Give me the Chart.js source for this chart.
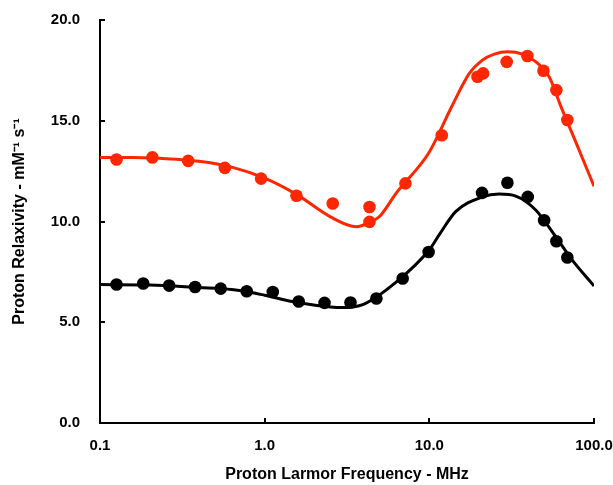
<!DOCTYPE html>
<html>
<head>
<meta charset="utf-8">
<script src="https://cdn.jsdelivr.net/npm/chart.js@4/dist/chart.umd.min.js"></script>
<style>
  html, body { margin: 0; padding: 0; background: #fff; }
  #wrap { width: 613px; height: 485px; }
</style>
</head>
<body>
<div id="wrap"><canvas id="relaxChart"></canvas></div>
<script>
// measured points (MHz, mM-1 s-1)
const redX = [0.126, 0.208, 0.343, 0.573, 0.951, 1.56, 2.59, 4.33, 4.33, 7.16, 11.9, 19.6, 21.2, 29.5, 39.4, 49.3, 59.1, 68.9];
const redY = [13.08, 13.18, 13.01, 12.66, 12.13, 11.28, 10.89, 10.72, 9.98, 11.89, 14.28, 17.18, 17.35, 17.92, 18.21, 17.48, 16.52, 15.04];

const blackX = [0.126, 0.183, 0.263, 0.378, 0.541, 0.778, 1.12, 1.61, 2.31, 3.32, 4.77, 6.89, 9.9, 20.9, 29.8, 39.6, 49.8, 59.1, 68.9];
const blackY = [6.87, 6.92, 6.82, 6.75, 6.67, 6.54, 6.50, 6.03, 5.96, 5.98, 6.18, 7.17, 8.49, 11.42, 11.92, 11.22, 10.06, 9.02, 8.21];

// fitted curves
const redFitX = [0.1, 0.158, 0.251, 0.398, 0.631, 1.0, 1.585, 2.51, 3.6, 4.33, 5.0, 6.31, 10, 13.8, 17.5, 21.0, 24.8, 29.9, 36.7, 44.4, 53.4, 63.1, 78.9, 100];
const redFitY = [13.18, 13.17, 13.12, 12.99, 12.70, 12.15, 11.31, 10.23, 9.74, 9.95, 10.26, 11.42, 13.45, 15.77, 17.35, 18.01, 18.31, 18.42, 18.31, 17.92, 17.18, 15.69, 13.79, 11.75];

const blackFitX = [0.1, 0.2, 0.398, 0.631, 0.8, 1.0, 1.585, 2.51, 2.97, 3.98, 6.31, 10, 11.5, 14.5, 21.0, 26.5, 33.5, 44.4, 58.6, 73.8, 100];
const blackFitY = [6.87, 6.85, 6.72, 6.62, 6.50, 6.34, 5.98, 5.76, 5.73, 5.89, 7.0, 8.6, 9.35, 10.5, 11.22, 11.36, 11.26, 10.56, 9.24, 8.08, 6.8];

const xTicks = [0.1, 1, 10, 100];
const yTicks = [0, 5, 10, 15, 20];

const RED = "#ff2600";
const FONT = "Helvetica, Arial, 'Liberation Sans', sans-serif";

const pts = (xs, ys) => xs.map((x, i) => ({ x: x, y: ys[i] }));

// tick marks point into the plot, so draw them here
const innerTicks = {
    id: "innerTicks",
    afterDraw(chart) {
        const { ctx, chartArea, scales } = chart;
        ctx.save();
        ctx.strokeStyle = "#000";
        ctx.lineWidth = 2;
        ctx.beginPath();
        yTicks.forEach(v => {
            const y = Math.round(scales.y.getPixelForValue(v));
            ctx.moveTo(chartArea.left, y);
            ctx.lineTo(chartArea.left + 5, y);
        });
        xTicks.forEach(v => {
            const x = Math.round(scales.x.getPixelForValue(v));
            ctx.moveTo(x, chartArea.bottom);
            ctx.lineTo(x, chartArea.bottom - 5);
        });
        ctx.stroke();
        ctx.restore();
    }
};

const chart = new Chart(document.getElementById("relaxChart"), {
    type: "scatter",
    data: {
        datasets: [
            {
                label: "red data",
                data: pts(redX, redY),
                backgroundColor: RED,
                borderColor: RED,
                pointRadius: 6.3,
                borderWidth: 0
            },
            {
                label: "black data",
                data: pts(blackX, blackY),
                backgroundColor: "#000",
                borderColor: "#000",
                pointRadius: 6.3,
                borderWidth: 0
            },
            {
                label: "red fit",
                data: pts(redFitX, redFitY),
                showLine: true,
                borderColor: RED,
                borderWidth: 3,
                pointRadius: 0,
                cubicInterpolationMode: "monotone"
            },
            {
                label: "black fit",
                data: pts(blackFitX, blackFitY),
                showLine: true,
                borderColor: "#000",
                borderWidth: 3,
                pointRadius: 0,
                cubicInterpolationMode: "monotone"
            }
        ]
    },
    options: {
        responsive: true,
        maintainAspectRatio: false,
        animation: false,
        layout: { padding: { top: 20, right: 19, left: 0, bottom: 0 } },
        plugins: {
            legend: { display: false },
            tooltip: { enabled: false }
        },
        scales: {
            x: {
                type: "logarithmic",
                min: 0.1,
                max: 100,
                afterBuildTicks: scale => {
                    scale.ticks = xTicks.map(v => ({ value: v }));
                },
                afterFit: scale => {
                    scale.height = 62;
                    scale.paddingLeft = 0;
                    scale.paddingRight = 0;
                },
                grid: { display: false, drawTicks: false },
                border: { color: "#000", width: 2 },
                ticks: {
                    color: "#000",
                    font: { family: FONT, size: 15, weight: "bold" },
                    padding: 14,
                    maxRotation: 0,
                    autoSkip: false,
                    callback: v => Number(v).toFixed(1)
                },
                title: {
                    display: true,
                    text: "Proton Larmor Frequency - MHz",
                    color: "#000",
                    font: { family: FONT, size: 16, weight: "bold" },
                    padding: { top: 0, bottom: 1 }
                }
            },
            y: {
                min: 0,
                max: 20,
                afterBuildTicks: scale => {
                    scale.ticks = yTicks.map(v => ({ value: v }));
                },
                afterFit: scale => {
                    scale.width = 100;
                    scale.paddingTop = 0;
                    scale.paddingBottom = 0;
                },
                grid: { display: false, drawTicks: false },
                border: { color: "#000", width: 2 },
                ticks: {
                    color: "#000",
                    font: { family: FONT, size: 15, weight: "bold" },
                    padding: 20,
                    callback: v => Number(v).toFixed(1)
                },
                title: {
                    display: true,
                    text: "Proton Relaxivity - mM\u207B\u00B9 s\u207B\u00B9",
                    color: "#000",
                    font: { family: FONT, size: 16, weight: "bold" },
                    padding: { top: 10, bottom: 0 }
                }
            }
        }
    },
    plugins: [innerTicks]
});
</script>
</body>
</html>
